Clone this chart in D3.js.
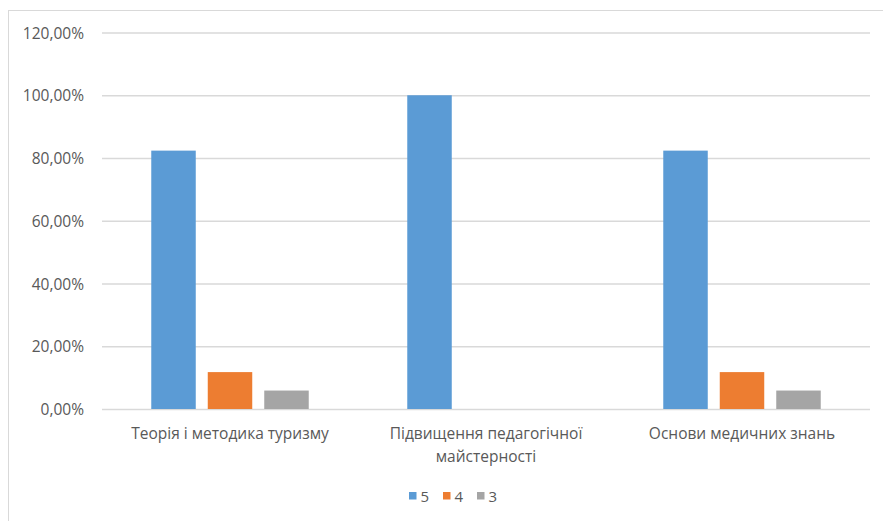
<!DOCTYPE html>
<html><head><meta charset="utf-8">
<script src="https://cdn.jsdelivr.net/npm/d3@7"></script>
<style>body{margin:0;background:#fff;} svg{display:block;}</style>
</head><body>
<svg id="c" width="883" height="521"></svg>
<script>
const categories = [["Теорія і методика туризму"], ["Підвищення педагогічної", "майстерності"], ["Основи медичних знань"]];
const seriesNames = ["5", "4", "3"];
const values5 = [0.8235, 1.0, 0.8235];
const values4 = [0.1176, 0, 0.1176];
const values3 = [0.0588, 0, 0.0588];
const yTicks = [0, 0.2, 0.4, 0.6, 0.8, 1.0, 1.2];
const colors = ["#5B9BD5", "#ED7D31", "#A5A5A5"];

(function() {
const seriesValues = [values5, values4, values3];
const svg = d3.select("#c");
const font = "'Open Sans', sans-serif";
const textColor = "#595959";

// chart border
svg.append("rect").attr("x", 8.5).attr("y", 10.5).attr("width", 900).attr("height", 600)
  .attr("fill", "none").attr("stroke", "#d9d9d9").attr("stroke-width", 1);

const pLeft = 102, pRight = 870, pTop = 32.5, pBottom = 409;
const catKeys = categories.map((c, i) => i);
const x0 = d3.scaleBand().domain(catKeys).range([pLeft, pRight]).paddingInner(0).paddingOuter(0);
const x1 = d3.scaleBand().domain(seriesNames).range([0, x0.bandwidth()]).paddingInner(0.2124).paddingOuter(0.872);
const y = d3.scaleLinear().domain([0, 1.2]).range([pBottom, pTop]);

// gridlines
const yAxis = d3.axisLeft(y).tickValues(yTicks).tickSize(-(pRight - pLeft))
  .tickFormat(d => (d * 100).toFixed(2).replace(".", ",") + "%");
const gy = svg.append("g").attr("transform", `translate(${pLeft},0)`).call(yAxis);
gy.select(".domain").remove();
gy.selectAll(".tick line").attr("stroke", "#d9d9d9").attr("stroke-width", 1.3);
gy.selectAll(".tick text").attr("x", -18).attr("dy", "0.36em").attr("fill", textColor)
  .style("font-family", font).style("font-size", "15.5px");

// bars
seriesNames.forEach((s, si) => {
  svg.append("g").selectAll("rect").data(seriesValues[si]).join("rect")
    .attr("x", (d, i) => x0(i) + x1(s))
    .attr("width", x1.bandwidth())
    .attr("y", d => y(d))
    .attr("height", d => y(0) - y(d))
    .attr("fill", colors[si]);
});

// x axis labels
const xAxis = d3.axisBottom(x0).tickSize(0).tickFormat("");
const gx = svg.append("g").attr("transform", `translate(0,${pBottom})`).call(xAxis);
gx.select(".domain").remove();
gx.selectAll(".tick").each(function(d) {
  const t = d3.select(this).append("text").attr("text-anchor", "middle")
    .attr("fill", textColor).style("font-family", font).style("font-size", "15.5px");
  categories[d].forEach((line, li) => {
    t.append("tspan").attr("x", 0).attr("y", 29.5 + li * 23).text(line);
  });
});

// legend
const legendX = [409, 443, 477];
const lg = svg.append("g");
seriesNames.forEach((s, si) => {
  lg.append("rect").attr("x", legendX[si]).attr("y", 492).attr("width", 7.5).attr("height", 7.5).attr("fill", colors[si]);
  lg.append("text").attr("x", legendX[si] + 11.5).attr("y", 502).text(s)
    .attr("fill", textColor).style("font-family", font).style("font-size", "15px");
});
})();
</script>
</body></html>
